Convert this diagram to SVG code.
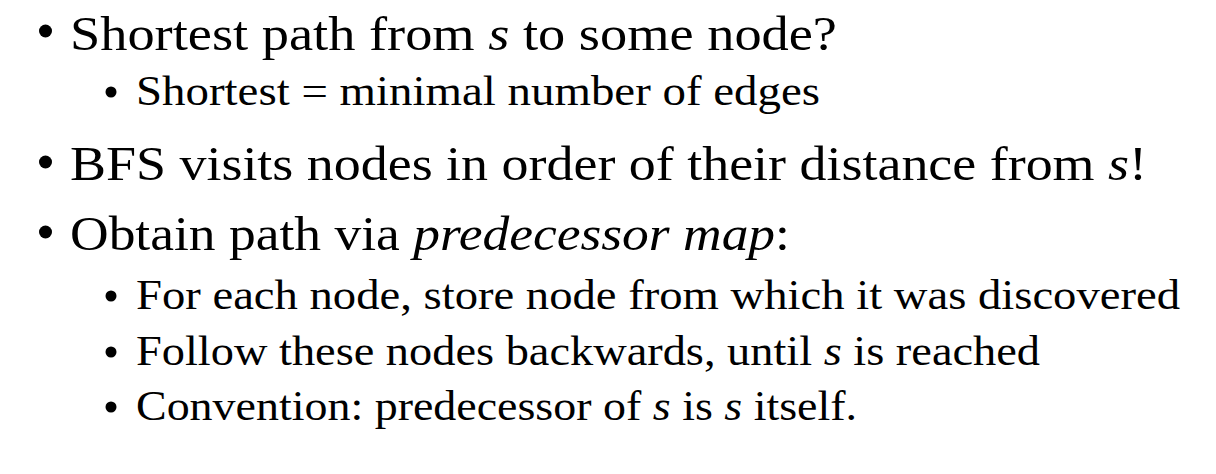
<svg xmlns="http://www.w3.org/2000/svg" width="1216" height="474" viewBox="0 0 1216 474">
<style>
  text { font-family: "Liberation Serif", "DejaVu Serif", serif; fill: #000; }
  .l1 { font-size: 48px; }
  .l2 { font-size: 43px; }
  .it { font-style: italic; }
  .b1, .b2 { fill: #000; }
</style>
<rect width="1216" height="474" fill="#fff"/>
<g id="item1">
  <circle class="b1" cx="45.5" cy="31" r="6.5"/>
  <text class="l1" x="70" y="50" textLength="767" lengthAdjust="spacingAndGlyphs">Shortest path from <tspan class="it">s</tspan> to some node?</text>
</g>
<g id="item1a">
  <circle class="b2" cx="111" cy="92" r="5.5"/>
  <text class="l2" x="136" y="105" textLength="684" lengthAdjust="spacingAndGlyphs">Shortest = minimal number of edges</text>
</g>
<g id="item2">
  <circle class="b1" cx="45.5" cy="162" r="6.5"/>
  <text class="l1" x="70" y="180" textLength="1077" lengthAdjust="spacingAndGlyphs">BFS visits nodes in order of their distance from <tspan class="it">s</tspan>!</text>
</g>
<g id="item3">
  <circle class="b1" cx="45.5" cy="232" r="6.5"/>
  <text class="l1" x="70" y="250" textLength="720" lengthAdjust="spacingAndGlyphs">Obtain path via <tspan class="it">predecessor map</tspan>:</text>
</g>
<g id="item3a">
  <circle class="b2" cx="111" cy="296" r="5.5"/>
  <text class="l2" x="136" y="309" textLength="1044" lengthAdjust="spacingAndGlyphs">For each node, store node from which it was discovered</text>
</g>
<g id="item3b">
  <circle class="b2" cx="111" cy="352" r="5.5"/>
  <text class="l2" x="136" y="365" textLength="904" lengthAdjust="spacingAndGlyphs">Follow these nodes backwards, until <tspan class="it">s</tspan> is reached</text>
</g>
<g id="item3c">
  <circle class="b2" cx="111" cy="407" r="5.5"/>
  <text class="l2" x="136" y="420" textLength="721" lengthAdjust="spacingAndGlyphs">Convention: predecessor of <tspan class="it">s</tspan> is <tspan class="it">s</tspan> itself.</text>
</g>
<g id="connectors"></g>
</svg>
